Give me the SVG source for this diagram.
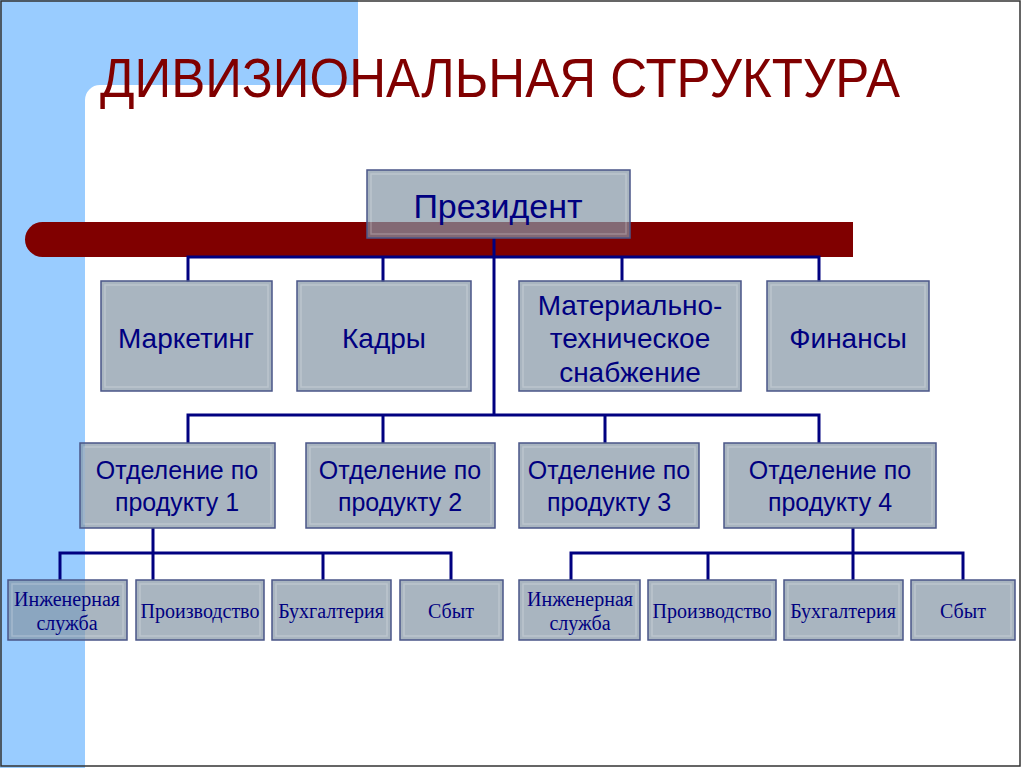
<svg xmlns="http://www.w3.org/2000/svg" width="1024" height="768" viewBox="0 0 1024 768">
<style>
.bx{fill:#8595A5;fill-opacity:0.7;stroke:#4A5688;stroke-width:1.5}
.bv{fill:none;stroke:#FFFFFF;stroke-opacity:0.22;stroke-width:1.5}
.t{font-family:"Liberation Sans",Arial,sans-serif;fill:#000080;text-anchor:middle}
.s{font-family:"Liberation Serif","Times New Roman",serif;fill:#000080;text-anchor:middle;font-size:20px}
.ln{fill:none;stroke:#000080;stroke-width:3}
</style>
<rect x="0" y="0" width="1024" height="768" fill="#FFFFFF"/>
<path d="M0 0H358V85H100A15 15 0 0 0 85 100V768H0Z" fill="#99CCFF"/>
<rect x="1" y="1" width="1019" height="765" fill="none" stroke="#333333" stroke-width="1.5"/>
<text x="500" y="97" font-family="Liberation Sans,Arial,sans-serif" font-size="56" fill="#800000" text-anchor="middle" textLength="800" lengthAdjust="spacingAndGlyphs">ДИВИЗИОНАЛЬНАЯ СТРУКТУРА</text>
<path d="M42.5 222H853V257H42.5A17.5 17.5 0 0 1 42.5 222Z" fill="#800000"/>
<g id="connectors" class="ln">
<path d="M494 238V415"/>
<path d="M188 282V257H819V282M383 257V282M622 257V282"/>
<path d="M188 443V415H819V443M383 415V443M605 415V443"/>
<path d="M153 528V553M60 580V553H451V580M153 553V580M323 553V580"/>
<path d="M853 528V580M571 580V553H963V580M708 553V580"/>
</g>
<g id="president"><rect class="bx" x="367" y="170" width="263" height="68"/><rect class="bv" x="371" y="174" width="255" height="60"/><text class="t" x="498" y="218" font-size="34">Президент</text></g>
<g id="marketing"><rect class="bx" x="101" y="281" width="171" height="110"/><rect class="bv" x="105" y="285" width="163" height="102"/><text class="t" x="186" y="348" font-size="28">Маркетинг</text></g>
<g id="kadry"><rect class="bx" x="297" y="281" width="174" height="110"/><rect class="bv" x="301" y="285" width="166" height="102"/><text class="t" x="384" y="348" font-size="28">Кадры</text></g>
<g id="mts"><rect class="bx" x="519" y="281" width="222" height="110"/><rect class="bv" x="523" y="285" width="214" height="102"/><text class="t" x="630" y="315" font-size="28">Материально-</text><text class="t" x="630" y="348" font-size="28">техническое</text><text class="t" x="630" y="382" font-size="28">снабжение</text></g>
<g id="finansy"><rect class="bx" x="767" y="281" width="162" height="110"/><rect class="bv" x="771" y="285" width="154" height="102"/><text class="t" x="848" y="348" font-size="28">Финансы</text></g>
<g id="prod1"><rect class="bx" x="80" y="443" width="195" height="85"/><rect class="bv" x="84" y="447" width="187" height="77"/><text class="t" x="177" y="479" font-size="25">Отделение по</text><text class="t" x="177" y="511" font-size="25">продукту 1</text></g>
<g id="prod2"><rect class="bx" x="306" y="443" width="189" height="85"/><rect class="bv" x="310" y="447" width="181" height="77"/><text class="t" x="400" y="479" font-size="25">Отделение по</text><text class="t" x="400" y="511" font-size="25">продукту 2</text></g>
<g id="prod3"><rect class="bx" x="519" y="443" width="180" height="85"/><rect class="bv" x="523" y="447" width="172" height="77"/><text class="t" x="609" y="479" font-size="25">Отделение по</text><text class="t" x="609" y="511" font-size="25">продукту 3</text></g>
<g id="prod4"><rect class="bx" x="724" y="443" width="212" height="85"/><rect class="bv" x="728" y="447" width="204" height="77"/><text class="t" x="830" y="479" font-size="25">Отделение по</text><text class="t" x="830" y="511" font-size="25">продукту 4</text></g>
<g id="eng1"><rect class="bx" x="8" y="580" width="119" height="60"/><rect class="bv" x="12" y="584" width="111" height="52"/><text class="s" x="67" y="606">Инженерная</text><text class="s" x="67" y="630">служба</text></g>
<g id="proizv1"><rect class="bx" x="136" y="580" width="128" height="60"/><rect class="bv" x="140" y="584" width="120" height="52"/><text class="s" x="200" y="618">Производство</text></g>
<g id="buh1"><rect class="bx" x="272" y="580" width="119" height="60"/><rect class="bv" x="276" y="584" width="111" height="52"/><text class="s" x="331" y="618">Бухгалтерия</text></g>
<g id="sbyt1"><rect class="bx" x="400" y="580" width="103" height="60"/><rect class="bv" x="404" y="584" width="95" height="52"/><text class="s" x="451" y="618">Сбыт</text></g>
<g id="eng4"><rect class="bx" x="519" y="580" width="121" height="60"/><rect class="bv" x="523" y="584" width="113" height="52"/><text class="s" x="580" y="606">Инженерная</text><text class="s" x="580" y="630">служба</text></g>
<g id="proizv4"><rect class="bx" x="648" y="580" width="128" height="60"/><rect class="bv" x="652" y="584" width="120" height="52"/><text class="s" x="712" y="618">Производство</text></g>
<g id="buh4"><rect class="bx" x="784" y="580" width="119" height="60"/><rect class="bv" x="788" y="584" width="111" height="52"/><text class="s" x="843" y="618">Бухгалтерия</text></g>
<g id="sbyt4"><rect class="bx" x="911" y="580" width="104" height="60"/><rect class="bv" x="915" y="584" width="96" height="52"/><text class="s" x="963" y="618">Сбыт</text></g>
</svg>
